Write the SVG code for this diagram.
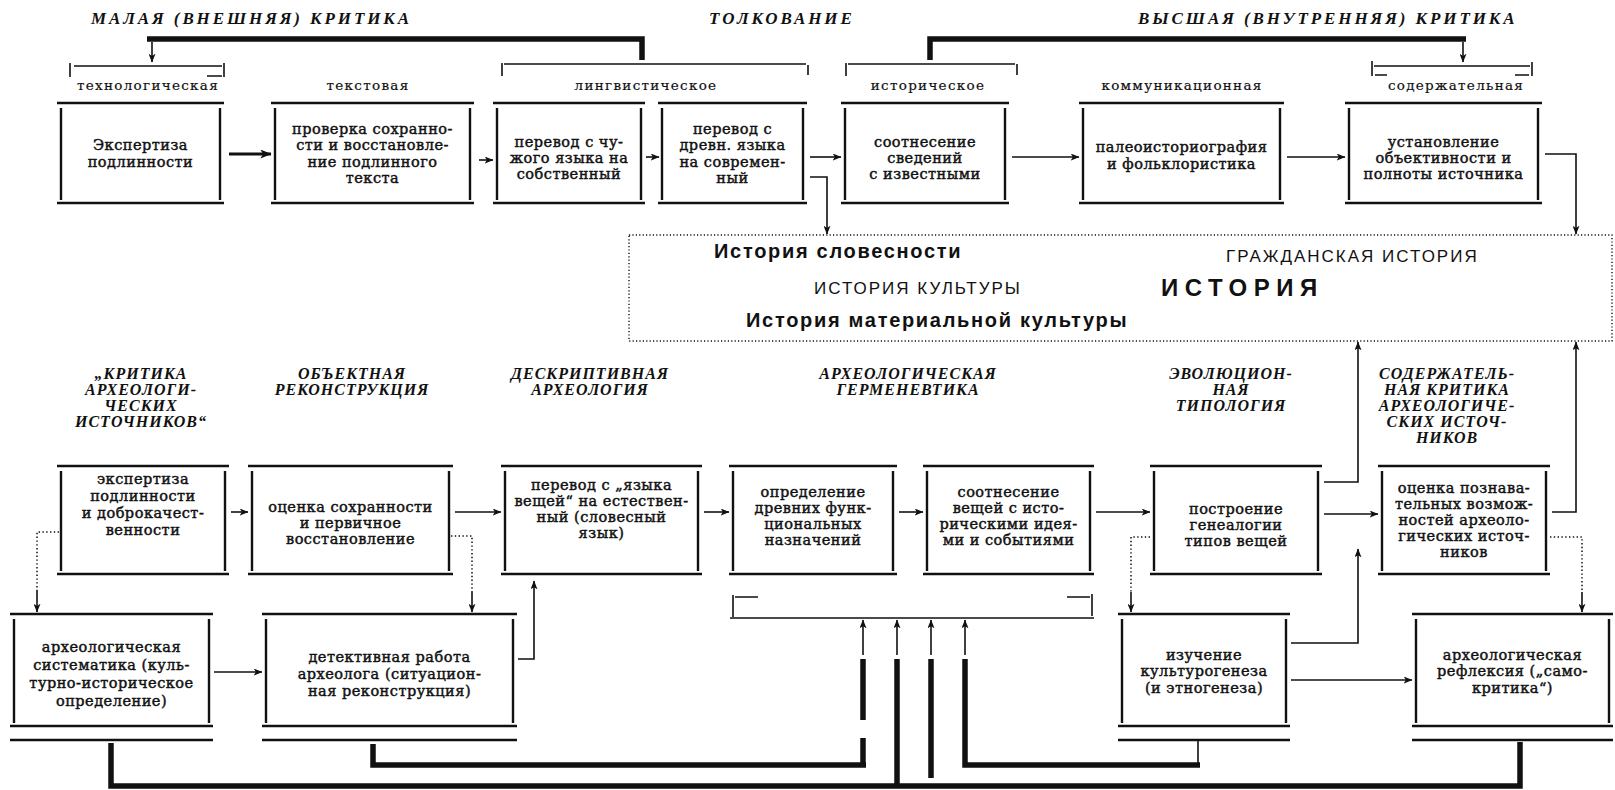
<svg xmlns="http://www.w3.org/2000/svg" width="1615" height="790" viewBox="0 0 1615 790">
<defs>
<marker id="ah" viewBox="0 0 10 8" refX="9.5" refY="4" markerWidth="9" markerHeight="7" markerUnits="userSpaceOnUse" orient="auto"><path d="M0,0 L10,4 L0,8 L2.5,4 z" fill="#111"/></marker>
<marker id="ahb" viewBox="0 0 10 8" refX="9.5" refY="4" markerWidth="12" markerHeight="9" markerUnits="userSpaceOnUse" orient="auto"><path d="M0,0 L10,4 L0,8 L2.5,4 z" fill="#111"/></marker>
</defs>
<style>
.frame{fill:none;stroke:#111;stroke-width:2.4}
.thin{fill:none;stroke:#111;stroke-width:1.6}
.thick{fill:none;stroke:#111;stroke-width:5.5}
.dot{fill:none;stroke:#111;stroke-width:1.5;stroke-dasharray:1.4 2.4}
.arr{fill:none;stroke:#111;stroke-width:1.6;marker-end:url(#ah)}
.arrb{fill:none;stroke:#111;stroke-width:3;marker-end:url(#ahb)}
.t{font-family:"DejaVu Serif","Liberation Serif",serif;font-size:14.5px;fill:#111;text-anchor:middle;letter-spacing:0.5px;stroke:#111;stroke-width:0.45}
.lbl{font-family:"DejaVu Serif","Liberation Serif",serif;font-size:13.5px;letter-spacing:1.3px;text-anchor:middle;fill:#111;stroke:#111;stroke-width:0.2}
.ttl{font-family:"Liberation Serif",serif;font-style:italic;font-weight:bold;font-size:17px;letter-spacing:2.9px;fill:#111}
.btl{font-family:"Liberation Serif",serif;font-style:italic;font-weight:bold;font-size:16px;letter-spacing:1px;fill:#111;text-anchor:middle}
.h1{font-family:"Liberation Sans",sans-serif;font-weight:bold;font-size:20px;letter-spacing:1.7px;fill:#111}
.h2{font-family:"Liberation Sans",sans-serif;font-size:17px;letter-spacing:2px;fill:#111}
.h3{font-family:"Liberation Sans",sans-serif;font-weight:bold;font-size:24px;letter-spacing:6.5px;fill:#111}
</style>
<rect width="1615" height="790" fill="#fff"/>

<g id="titles">
<text class="ttl" x="91" y="24">МАЛАЯ (ВНЕШНЯЯ) КРИТИКА</text>
<text class="ttl" x="709" y="24">ТОЛКОВАНИЕ</text>
<text class="ttl" x="1138" y="24">ВЫСШАЯ (ВНУТРЕННЯЯ) КРИТИКА</text>
</g>

<g id="brackets">
<path class="thin" d="M70,63 V77 M74,66 H222 M224,63 V77 M207,76 H222"/>
<path class="thin" d="M502,63 V76 M504,64 H806 M808,65 V75"/>
<path class="thin" d="M846,63 V76 M848,64 H1015 M1017,64 V75"/>
<path class="thin" d="M1372,61 V76 M1374,66 H1530 M1532,62 V76 M1375,75 H1387 M1515,75 H1529"/>
<text class="lbl" x="148" y="90">технологическая</text>
<text class="lbl" x="368" y="90">текстовая</text>
<text class="lbl" x="646" y="90">лингвистическое</text>
<text class="lbl" x="928" y="90">историческое</text>
<text class="lbl" x="1182" y="90">коммуникационная</text>
<text class="lbl" x="1456" y="90">содержательная</text>
</g>

<g id="n-b1"><path class="frame" d="M57,103 H224 M57,203 H224 M61,108 V200 M220,108 V200"/>
<text class="t"><tspan x="140.5" y="150">Экспертиза</tspan><tspan x="140.5" y="167">подлинности</tspan></text></g>
<g id="n-b2"><path class="frame" d="M271,103 H474 M271,203 H474 M275,108 V200 M470,108 V200"/>
<text class="t"><tspan x="372.5" y="134">проверка сохранно-</tspan><tspan x="372.5" y="150">сти и восстановле-</tspan><tspan x="372.5" y="167">ние подлинного</tspan><tspan x="372.5" y="183">текста</tspan></text></g>
<g id="n-b3"><path class="frame" d="M493,103 H645 M493,203 H645 M497,108 V200 M641,108 V200"/>
<text class="t"><tspan x="569" y="147">перевод с чу-</tspan><tspan x="569" y="163">жого языка на</tspan><tspan x="569" y="179">собственный</tspan></text></g>
<g id="n-b4"><path class="frame" d="M658,103 H807 M658,203 H807 M662,108 V200 M803,108 V200"/>
<text class="t"><tspan x="732.5" y="134">перевод с</tspan><tspan x="732.5" y="150">древн. языка</tspan><tspan x="732.5" y="167">на современ-</tspan><tspan x="732.5" y="183">ный</tspan></text></g>
<g id="n-b5"><path class="frame" d="M841,103 H1009 M841,203 H1009 M845,108 V200 M1005,108 V200"/>
<text class="t"><tspan x="925" y="147">соотнесение</tspan><tspan x="925" y="163">сведений</tspan><tspan x="925" y="179">с известными</tspan></text></g>
<g id="n-b6"><path class="frame" d="M1079,103 H1284 M1079,203 H1284 M1083,108 V200 M1280,108 V200"/>
<text class="t"><tspan x="1181.5" y="152">палеоисториография</tspan><tspan x="1181.5" y="169">и фольклористика</tspan></text></g>
<g id="n-b7"><path class="frame" d="M1345,103 H1542 M1345,203 H1542 M1349,108 V200 M1538,108 V200"/>
<text class="t"><tspan x="1443.5" y="147">установление</tspan><tspan x="1443.5" y="163">объективности и</tspan><tspan x="1443.5" y="179">полноты источника</tspan></text></g>

<g id="n-history">
<rect x="629" y="235" width="983" height="106" fill="none" stroke="#111" stroke-width="1.4" stroke-dasharray="1.2 2.2"/>
<text class="h1" x="714" y="258">История словесности</text>
<text class="h2" x="1226" y="262">ГРАЖДАНСКАЯ ИСТОРИЯ</text>
<text class="h2" x="814" y="294">ИСТОРИЯ КУЛЬТУРЫ</text>
<text class="h3" x="1161" y="296">ИСТОРИЯ</text>
<text class="h1" x="746" y="327">История материальной культуры</text>
</g>

<g id="section-titles">
<text class="btl"><tspan x="141" y="379">„КРИТИКА</tspan><tspan x="141" y="395">АРХЕОЛОГИ-</tspan><tspan x="141" y="411">ЧЕСКИХ</tspan><tspan x="141" y="427">ИСТОЧНИКОВ“</tspan></text>
<text class="btl"><tspan x="352" y="379">ОБЪЕКТНАЯ</tspan><tspan x="352" y="395">РЕКОНСТРУКЦИЯ</tspan></text>
<text class="btl"><tspan x="590" y="379">ДЕСКРИПТИВНАЯ</tspan><tspan x="590" y="395">АРХЕОЛОГИЯ</tspan></text>
<text class="btl"><tspan x="908" y="379">АРХЕОЛОГИЧЕСКАЯ</tspan><tspan x="908" y="395">ГЕРМЕНЕВТИКА</tspan></text>
<text class="btl"><tspan x="1231" y="379">ЭВОЛЮЦИОН-</tspan><tspan x="1231" y="395">НАЯ</tspan><tspan x="1231" y="411">ТИПОЛОГИЯ</tspan></text>
<text class="btl"><tspan x="1447" y="379">СОДЕРЖАТЕЛЬ-</tspan><tspan x="1447" y="395">НАЯ КРИТИКА</tspan><tspan x="1447" y="411">АРХЕОЛОГИЧЕ-</tspan><tspan x="1447" y="427">СКИХ ИСТОЧ-</tspan><tspan x="1447" y="443">НИКОВ</tspan></text>
</g>

<g id="n-c1"><path class="frame" d="M57,466 H229 M57,574 H229 M61,471 V571 M225,471 V571"/>
<text class="t"><tspan x="143" y="484">экспертиза</tspan><tspan x="143" y="501">подлинности</tspan><tspan x="143" y="518">и доброкачест-</tspan><tspan x="143" y="535">венности</tspan></text></g>
<g id="n-c2"><path class="frame" d="M248,466 H453 M248,574 H453 M252,471 V571 M449,471 V571"/>
<text class="t"><tspan x="350.5" y="512">оценка сохранности</tspan><tspan x="350.5" y="528">и первичное</tspan><tspan x="350.5" y="544">восстановление</tspan></text></g>
<g id="n-c3"><path class="frame" d="M501,466 H702 M501,574 H702 M505,471 V571 M698,471 V571"/>
<text class="t"><tspan x="601.5" y="490">перевод с „языка</tspan><tspan x="601.5" y="506">вещей“ на естествен-</tspan><tspan x="601.5" y="522">ный (словесный</tspan><tspan x="601.5" y="538">язык)</tspan></text></g>
<g id="n-c4"><path class="frame" d="M729,466 H897 M729,574 H897 M733,471 V571 M893,471 V571"/>
<text class="t"><tspan x="813" y="497">определение</tspan><tspan x="813" y="513">древних функ-</tspan><tspan x="813" y="529">циональных</tspan><tspan x="813" y="545">назначений</tspan></text></g>
<g id="n-c5"><path class="frame" d="M923,466 H1094 M923,574 H1094 M927,471 V571 M1090,471 V571"/>
<text class="t"><tspan x="1008.5" y="497">соотнесение</tspan><tspan x="1008.5" y="513">вещей с исто-</tspan><tspan x="1008.5" y="529">рическими идея-</tspan><tspan x="1008.5" y="545">ми и событиями</tspan></text></g>
<g id="n-c6"><path class="frame" d="M1150,466 H1322 M1150,574 H1322 M1154,471 V571 M1318,471 V571"/>
<text class="t"><tspan x="1236" y="514">построение</tspan><tspan x="1236" y="530">генеалогии</tspan><tspan x="1236" y="546">типов вещей</tspan></text></g>
<g id="n-c7"><path class="frame" d="M1378,466 H1550 M1378,574 H1550 M1382,471 V571 M1546,471 V571"/>
<text class="t"><tspan x="1464" y="493">оценка познава-</tspan><tspan x="1464" y="509">тельных возмож-</tspan><tspan x="1464" y="525">ностей археоло-</tspan><tspan x="1464" y="541">гических источ-</tspan><tspan x="1464" y="557">ников</tspan></text></g>

<g id="n-bracket"><path class="thin" d="M733,595 V617 M735,597 H758 M1067,597 H1090 M1092,594 V616 M730,618 H1094"/></g>

<g id="n-d1"><path class="frame" d="M10,614 H213 M10,726 H213 M14,619 V723 M209,619 V723 M10,740 H213"/>
<text class="t"><tspan x="111.5" y="652">археологическая</tspan><tspan x="111.5" y="670">систематика (куль-</tspan><tspan x="111.5" y="688">турно-историческое</tspan><tspan x="111.5" y="706">определение)</tspan></text></g>
<g id="n-d2"><path class="frame" d="M262,614 H517 M262,726 H517 M266,619 V723 M513,619 V723 M262,740 H517"/>
<text class="t"><tspan x="389.5" y="662">детективная работа</tspan><tspan x="389.5" y="679">археолога (ситуацион-</tspan><tspan x="389.5" y="696">ная реконструкция)</tspan></text></g>
<g id="n-d3"><path class="frame" d="M1118,614 H1290 M1118,726 H1290 M1122,619 V723 M1286,619 V723 M1118,740 H1290"/>
<text class="t"><tspan x="1204" y="660">изучение</tspan><tspan x="1204" y="676">культурогенеза</tspan><tspan x="1204" y="693">(и этногенеза)</tspan></text></g>
<g id="n-d4"><path class="frame" d="M1412,614 H1613 M1412,726 H1613 M1416,619 V723 M1609,619 V723 M1412,740 H1613"/>
<text class="t"><tspan x="1512.5" y="660">археологическая</tspan><tspan x="1512.5" y="676">рефлексия („само-</tspan><tspan x="1512.5" y="693">критика“)</tspan></text></g>

<g id="connectors">
<path class="thick" d="M147,39 H642 V60"/>
<path class="thick" d="M930,60 V39 H1466"/>
<path class="arr" d="M152,42 V62"/>
<path class="arr" d="M1463,42 V62"/>
<path class="arrb" d="M229,154 H271"/>
<path class="arr" d="M479,160 H493"/>
<path class="arr" d="M646,157 H659"/>
<path class="arr" d="M810,157 H841"/>
<path class="arr" d="M810,177 H827 V234"/>
<path class="arr" d="M1012,157 H1079"/>
<path class="arr" d="M1287,157 H1345"/>
<path class="arr" d="M1545,154 H1576 V234"/>
<path class="arr" d="M231,512 H248"/>
<path class="arr" d="M455,512 H501"/>
<path class="arr" d="M704,512 H729"/>
<path class="arr" d="M899,512 H923"/>
<path class="arr" d="M1096,512 H1150"/>
<path class="arr" d="M1324,514 H1378"/>
<path class="arr" d="M1324,482 H1358 V342"/>
<path class="arr" d="M1552,512 H1576 V342"/>
<path class="arr" d="M1291,643 H1358 V549"/>
<path class="arr" d="M1291,680 H1412"/>
<path class="arr" d="M518,659 H534 V581"/>
<path class="arr" d="M214,672 H262"/>
<path class="dot" d="M59,532 H37 V590"/>
<path class="arr" d="M37,590 V612"/>
<path class="dot" d="M451,536 H472 V592"/>
<path class="arr" d="M472,592 V612"/>
<path class="dot" d="M1150,537 H1131 V592"/>
<path class="arr" d="M1131,592 V612"/>
<path class="dot" d="M1550,537 H1582 V592"/>
<path class="arr" d="M1582,592 V612"/>
<path class="arr" d="M863,655 V620"/>
<path class="arr" d="M897,655 V620"/>
<path class="arr" d="M931,655 V620"/>
<path class="arr" d="M965,655 V620"/>
<path class="thick" d="M863,659 V720 M863,738 V765"/>
<path class="thick" d="M373,744 V765 H866"/>
<path class="thick" d="M897,659 V786"/>
<path class="thick" d="M931,659 V778"/>
<path class="thick" d="M965,659 V765 H1200"/>
<path class="thin" d="M1198,741 V765"/>
<path class="thick" d="M111,743 V786 H1520 V742"/>
</g>
</svg>
